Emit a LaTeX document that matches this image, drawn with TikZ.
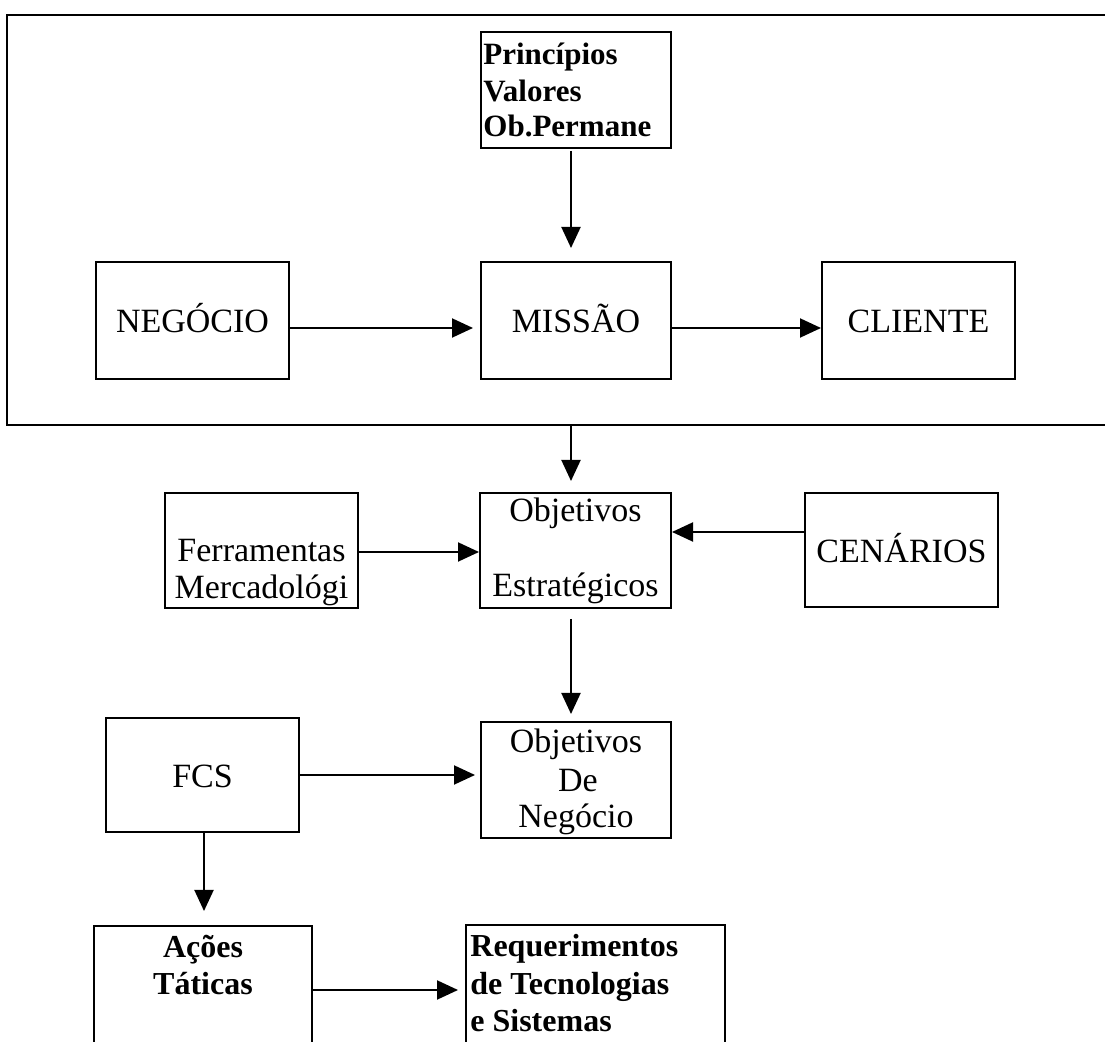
\documentclass[tikz,border=0pt]{standalone}
\usepackage{fontspec}
\setmainfont{Liberation Serif}
\usetikzlibrary{arrows.meta}
\tikzset{
  box/.style={draw, line width=1pt, rectangle, inner sep=0pt, text height=12.5pt, text depth=0pt, font=\fontsize{17pt}{18pt}\selectfont},
  arr/.style={line width=1pt, -{Triangle[length=10.5pt,width=9.5pt]}},
  txt/.style={inner sep=0pt, anchor=base, font=\fontsize{17pt}{18pt}\selectfont},
  btxt/.style={inner sep=0pt, anchor=base west, font=\bfseries\fontsize{15.5pt}{18pt}\selectfont},
  rtxt/.style={inner sep=0pt, anchor=base west, font=\bfseries\fontsize{16pt}{18pt}\selectfont},
  bctxt/.style={inner sep=0pt, anchor=base, font=\bfseries\fontsize{16pt}{18pt}\selectfont},
}
\begin{document}
\begin{tikzpicture}[x=0.5pt,y=-0.5pt]
\path[use as bounding box, clip] (0,0) rectangle (1105,1042);
% outer frame
\draw[line width=1pt] (7,15) rectangle (1130,425);
\coordinate (fb) at (571,425);
% boxes
\node[box, minimum width=95pt, minimum height=58pt] (pr) at (576,90) {};
\node[box, minimum width=96.5pt, minimum height=58.5pt] (neg) at (192.5,320.5) {NEGÓCIO};
\node[box, minimum width=95pt, minimum height=58.5pt] (mis) at (576,320.5) {MISSÃO};
\node[box, minimum width=96.5pt, minimum height=58.5pt] (cli) at (918.5,320.5) {CLIENTE};
\node[box, minimum width=96.5pt, minimum height=57.5pt] (fer) at (261.5,550.5) {};
\node[box, minimum width=95.5pt, minimum height=57.5pt] (oe) at (575.5,550.5) {};
\node[box, minimum width=96.5pt, minimum height=57pt] (cen) at (901.5,550) {CENÁRIOS};
\node[box, minimum width=96.5pt, minimum height=57pt] (fcs) at (202.5,775) {FCS};
\node[box, minimum width=95pt, minimum height=58pt] (on) at (576,780) {};
\node[box, minimum width=109pt, minimum height=68pt] (aco) at (203,994) {};
\node[box, minimum width=129.5pt, minimum height=68.5pt] (req) at (595.5,993.5) {};
% texts
\node[btxt] (pr1) at (483,65) {Princípios};
\node[btxt] (pr2) at (483,102) {Valores};
\node[btxt] (pr3) at (483,137) {Ob.Permane};
\node[txt] (fer1) at (261.5,562) {Ferramentas};
\node[txt] (fer2) at (261.5,599) {Mercadológi};
\node[txt] (oe1) at (575.5,522) {Objetivos};
\node[txt] (oe2) at (575.5,597) {Estratégicos};
\node[txt] (on1) at (576,753) {Objetivos};
\node[txt] (on2) at (578,792) {De};
\node[txt] (on3) at (576,828) {Negócio};
\node[bctxt] (ac1) at (203,958) {Ações};
\node[bctxt] (ac2) at (203,995) {Táticas};
\node[rtxt] (rq1) at (470,957) {Requerimentos};
\node[rtxt] (rq2) at (470,995) {de Tecnologias};
\node[rtxt] (rq3) at (470,1032) {e Sistemas};
% connectors
\draw[arr, shorten <=1pt, shorten >=6.5pt] ([xshift=-2.5pt]pr.south) -- ([xshift=-2.5pt]mis.north);
\draw[arr, shorten >=3.5pt] ([yshift=-3.75pt]neg.east) -- ([yshift=-3.75pt]mis.west);
\draw[arr] ([yshift=-3.75pt]mis.east) -- ([yshift=-3.75pt]cli.west);
\draw[arr, shorten >=5.5pt] (fb) -- (fb |- oe.north);
\draw[arr] ([yshift=-0.75pt]fer.east) -- ([yshift=-0.75pt]oe.west);
\draw[arr] ([yshift=9pt]cen.west) -- ([yshift=9pt]cen.west -| oe.east);
\draw[arr, shorten <=5pt, shorten >=3.5pt] ([xshift=-2.25pt]oe.south) -- ([xshift=-2.25pt]oe.south |- on.north);
\draw[arr, shorten >=2.5pt] (fcs.east) -- (fcs.east -| on.west);
\draw[arr, shorten >=7pt] ([xshift=0.75pt]fcs.south) -- ([xshift=0.75pt]fcs.south |- aco.north);
\draw[arr, shorten >=3.5pt] ([yshift=2pt]aco.east) -- ([yshift=2pt]aco.east -| req.west);
\end{tikzpicture}
\end{document}
